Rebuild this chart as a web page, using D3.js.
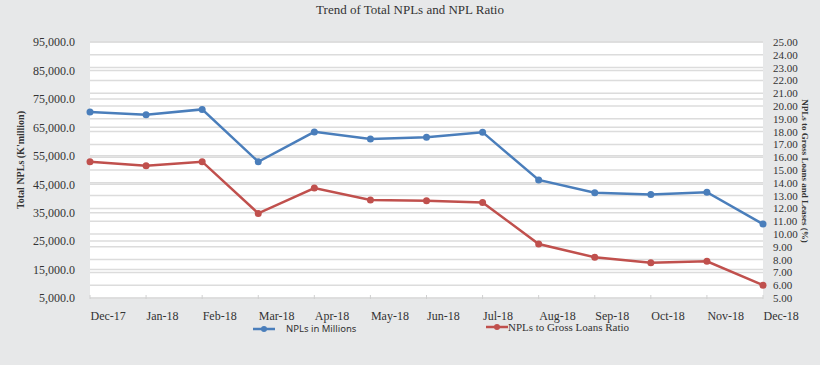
<!DOCTYPE html>
<html><head><meta charset="utf-8">
<script src="https://cdn.jsdelivr.net/npm/d3@7"></script>
<style>
body{margin:0;background:#e7e8e9;}
svg{display:block;}
</style></head>
<body>
<svg id="c" width="820" height="365"></svg>
<script>
const months = ["Dec-17","Jan-18","Feb-18","Mar-18","Apr-18","May-18","Jun-18","Jul-18","Aug-18","Sep-18","Oct-18","Nov-18","Dec-18"];
const npls = [70400, 69400, 71300, 52900, 63400, 60900, 61500, 63300, 46500, 42000, 41400, 42200, 31000];
const ratio = [15.65, 15.34, 15.65, 11.61, 13.59, 12.66, 12.60, 12.47, 9.22, 8.18, 7.76, 7.87, 6.00];
const leftTicks = [5000,15000,25000,35000,45000,55000,65000,75000,85000,95000];
const rightTicks = d3.range(5, 26, 1);
const seriesNames = ["NPLs in Millions", "NPLs to Gross Loans Ratio"];
const title = "Trend of Total NPLs and NPL Ratio";
const leftTitle = "Total NPLs (K'million)";
const rightTitle = "NPLs to Gross Loans and Leases (%)";

const svg = d3.select("#c");
const W = 820, H = 365;
const plot = {l:90, r:763, t:42, b:298};
const blue = "#4a7ebb", red = "#c0504d";
const serif = "Liberation Serif";

svg.append("rect").attr("width",W).attr("height",H).attr("fill","#e7e8e9");
svg.append("rect").attr("x",plot.l).attr("y",plot.t).attr("width",plot.r-plot.l).attr("height",plot.b-plot.t).attr("fill","#fff");

const x = d3.scalePoint().domain(months).range([plot.l, plot.r]);
const yL = d3.scaleLinear().domain([5000,95000]).range([plot.b, plot.t]);
const yR = d3.scaleLinear().domain([5,25]).range([plot.b, plot.t]);

// gridlines
const g = svg.append("g");
g.selectAll("line.gr").data(rightTicks).join("line")
  .attr("x1",plot.l).attr("x2",plot.r).attr("y1",d=>yR(d)).attr("y2",d=>yR(d))
  .attr("stroke","#dcdcdc").attr("stroke-width",1.5);
g.selectAll("line.gl").data(leftTicks).join("line")
  .attr("x1",plot.l).attr("x2",plot.r).attr("y1",d=>yL(d)).attr("y2",d=>yL(d))
  .attr("stroke","#dcdcdc").attr("stroke-width",1.5);

// bottom ticks
svg.selectAll("line.xt").data(months).join("line")
  .attr("x1",d=>x(d)).attr("x2",d=>x(d)).attr("y1",plot.b-3).attr("y2",plot.b+1)
  .attr("stroke","#d0d0d0").attr("stroke-width",1);

// axes labels via d3 axis
const fmtL = d3.format(",.1f");
const axL = svg.append("g").attr("transform",`translate(${plot.l-12},0)`)
  .call(d3.axisLeft(yL).tickValues(leftTicks).tickFormat(fmtL).tickSize(0));
axL.select(".domain").remove();
axL.selectAll("text").attr("font-size",12).attr("fill","#333").attr("font-family",serif);

const axR = svg.append("g").attr("transform",`translate(${plot.r+10},0)`)
  .call(d3.axisRight(yR).tickValues(rightTicks).tickFormat(d3.format(".2f")).tickSize(0));
axR.select(".domain").remove();
axR.selectAll("text").attr("font-size",11).attr("fill","#333").attr("font-family",serif).attr("x",0);

const axB = svg.append("g").attr("transform",`translate(0,${plot.b})`)
  .call(d3.axisBottom(x).tickSize(0));
axB.select(".domain").remove();
axB.selectAll("text").attr("font-size",12).attr("fill","#333").attr("font-family",serif)
  .attr("text-anchor","start").attr("y",13);

// lines
const lineL = d3.line().x((d,i)=>x(months[i])).y(d=>yL(d));
const lineR = d3.line().x((d,i)=>x(months[i])).y(d=>yR(d));
svg.append("path").attr("d",lineL(npls)).attr("fill","none").attr("stroke",blue).attr("stroke-width",2.5);
svg.append("path").attr("d",lineR(ratio)).attr("fill","none").attr("stroke",red).attr("stroke-width",2.5);
svg.selectAll("circle.b").data(npls).join("circle").attr("cx",(d,i)=>x(months[i])).attr("cy",d=>yL(d)).attr("r",3.5).attr("fill",blue);
svg.selectAll("circle.r").data(ratio).join("circle").attr("cx",(d,i)=>x(months[i])).attr("cy",d=>yR(d)).attr("r",3.5).attr("fill",red);

// title
svg.append("text").attr("x",410).attr("y",14).attr("text-anchor","middle")
  .attr("font-family",serif).attr("font-size",13).attr("fill","#333").text(title);

// axis titles
svg.append("text").attr("transform","translate(24,160) rotate(-90)").attr("text-anchor","middle")
  .attr("font-family",serif).attr("font-size",10).attr("font-weight","bold").attr("fill","#333").text(leftTitle);
svg.append("text").attr("transform","translate(802,171) rotate(90)").attr("text-anchor","middle")
  .attr("font-family",serif).attr("font-size",9).attr("font-weight","bold").attr("fill","#333").text(rightTitle);

// legend
const lg = [{x:253, y:329, c:blue, font:"Noto Sans", fs:9.5, tx:286},{x:486, y:327, c:red, font:serif, fs:11, tx:508}];
lg.forEach((l,i)=>{
  svg.append("line").attr("x1",l.x).attr("x2",l.x+22).attr("y1",l.y).attr("y2",l.y).attr("stroke",l.c).attr("stroke-width",2.5);
  svg.append("circle").attr("cx",l.x+11).attr("cy",l.y).attr("r",3).attr("fill",l.c);
  svg.append("text").attr("x",l.tx).attr("y",l.y).attr("dy","0.35em").attr("font-family",l.font).attr("font-size",l.fs).attr("fill","#333").text(seriesNames[i]);
});
</script>
</body></html>
